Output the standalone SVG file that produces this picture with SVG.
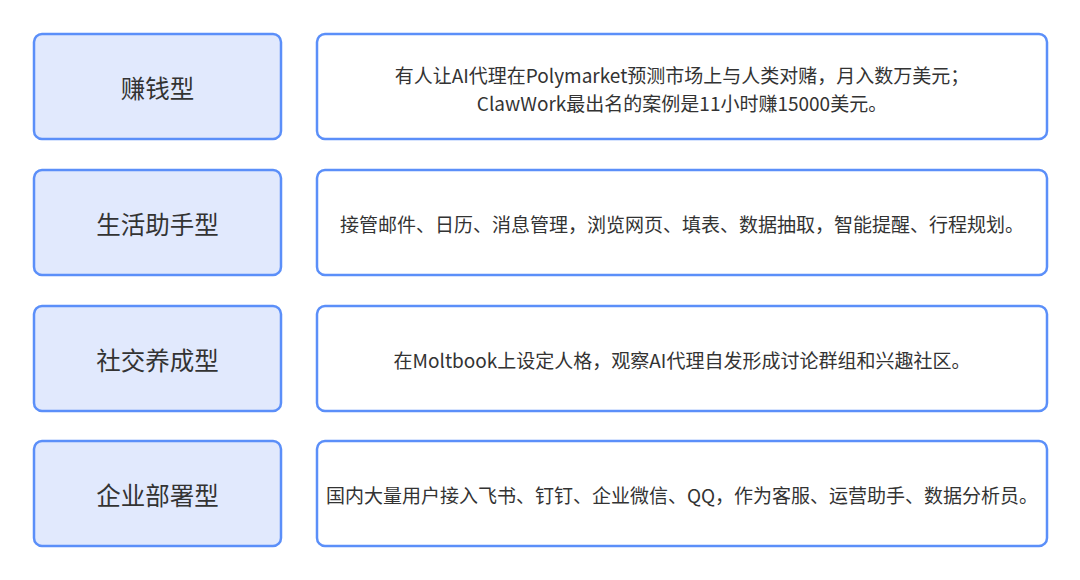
<svg xmlns="http://www.w3.org/2000/svg" width="1080" height="580" viewBox="0 0 1080 580">
<style>
.l{fill:#E1E9FD;stroke:#5B8FF9;stroke-width:2.5}
.r{fill:#FFFFFF;stroke:#5B8FF9;stroke-width:2.5}
.tl{font-family:"Noto Sans CJK SC","Noto Sans",sans-serif;font-size:24.5px;fill:#333333;text-anchor:middle;dominant-baseline:central}
.tr{font-family:"Noto Sans CJK SC","Noto Sans",sans-serif;font-size:19px;fill:#333333;text-anchor:middle;dominant-baseline:central}
</style>
<rect width="1080" height="580" fill="#FFFFFF"/>
<g id="n1"><rect class="l" x="34" y="34" width="247" height="105" rx="8"/><text class="tl" x="157.5" y="87">赚钱型</text></g>
<g id="d1"><rect class="r" x="317" y="34" width="730" height="105" rx="8"/><text class="tr" x="682" y="74">有人让AI代理在Polymarket预测市场上与人类对赌，月入数万美元；</text><text class="tr" x="682" y="102">ClawWork最出名的案例是11小时赚15000美元。</text></g>
<g id="n2"><rect class="l" x="34" y="170" width="247" height="105" rx="8"/><text class="tl" x="157.5" y="223">生活助手型</text></g>
<g id="d2"><rect class="r" x="317" y="170" width="730" height="105" rx="8"/><text class="tr" x="682" y="223">接管邮件、日历、消息管理，浏览网页、填表、数据抽取，智能提醒、行程规划。</text></g>
<g id="n3"><rect class="l" x="34" y="306" width="247" height="105" rx="8"/><text class="tl" x="157.5" y="359">社交养成型</text></g>
<g id="d3"><rect class="r" x="317" y="306" width="730" height="105" rx="8"/><text class="tr" x="682" y="359">在Moltbook上设定人格，观察AI代理自发形成讨论群组和兴趣社区。</text></g>
<g id="n4"><rect class="l" x="34" y="441" width="247" height="105" rx="8"/><text class="tl" x="157.5" y="494">企业部署型</text></g>
<g id="d4"><rect class="r" x="317" y="441" width="730" height="105" rx="8"/><text class="tr" x="682" y="494">国内大量用户接入飞书、钉钉、企业微信、QQ，作为客服、运营助手、数据分析员。</text></g>
<g id="connectors"></g>
</svg>
